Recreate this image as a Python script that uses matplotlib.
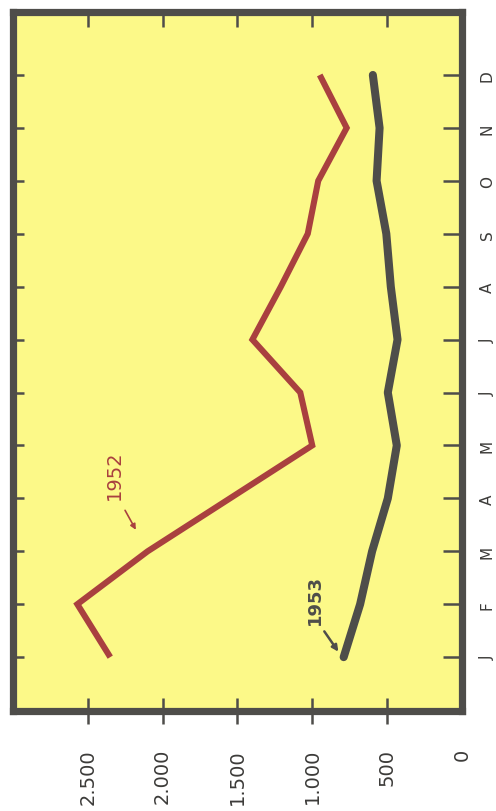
import matplotlib.pyplot as plt

# Données (lecture sur le graphique)
months = ['J', 'F', 'M', 'A', 'M', 'J', 'J', 'A', 'S', 'O', 'N', 'D']
v1952 = [2350, 2570, 2100, 1550, 1000, 1080, 1400, 1210, 1030, 960, 770, 950]
v1953 = [790, 680, 600, 495, 435, 495, 430, 475, 505, 570, 550, 595]
value_ticks = [0, 500, 1000, 1500, 2000, 2500]
value_labels = ['0', '500', '1.000', '1.500', '2.000', '2.500']

yellow = '#fcf988'
red = '#a9403f'
dark = '#4e4d4a'
txt = '#3c3b39'

fig = plt.figure(figsize=(4.96, 8.12), dpi=100)
ax = fig.add_axes([0.0262, 0.123, 0.905, 0.861])
ax.set_facecolor(yellow)

idx = list(range(len(months)))
# graphique tourné : mois en vertical, valeurs en horizontal (0 à droite)
ax.plot(v1952, idx, color=red, linewidth=4.4, solid_joinstyle='miter', solid_capstyle='butt')
ax.plot(v1953, idx, color=dark, linewidth=5.8, solid_joinstyle='round', solid_capstyle='round')

ax.set_xlim(3000, 0)
ax.set_ylim(-1.02, 12.19)

for s in ax.spines.values():
    s.set_linewidth(5.2)
    s.set_color(dark)

# axe des valeurs (en bas)
ax.set_xticks(value_ticks)
ax.set_xticklabels(value_labels, rotation=90, fontsize=14, color=txt)
ax.tick_params(axis='x', direction='inout', length=19, width=1.8, color=dark, pad=17)
ax.xaxis.get_major_ticks()[0].tick1line.set_visible(False)

# axe des mois (à droite)
ax.set_yticks(idx)
ax.set_yticklabels(months, rotation=90, fontsize=11, color=txt, va='center')
ax.yaxis.tick_right()
ax.tick_params(axis='y', direction='in', length=14, width=1.8, color=dark, pad=13)

# graduations intérieures en haut et à gauche
top = ax.secondary_xaxis('top')
top.set_xticks(value_ticks[1:])
top.set_xticklabels([])
top.tick_params(direction='in', length=11, width=1.8, color=dark)
top.spines['top'].set_visible(False)

left = ax.secondary_yaxis('left')
left.set_yticks(idx)
left.set_yticklabels([])
left.tick_params(direction='in', length=8, width=1.8, color=dark)
left.spines['left'].set_visible(False)

# étiquettes des courbes
ax.text(2320, 3.46, '1952', rotation=90, color=red, fontsize=14,
        ha='center', va='center')
ax.annotate('', xy=(2170, 2.36), xytext=(2260, 2.82),
            arrowprops=dict(arrowstyle='-|>', color=red, lw=1.2, mutation_scale=8))
ax.text(983, 1.10, '1953', rotation=90, color=dark, fontsize=13, fontweight='bold',
        ha='center', va='center')
ax.annotate('', xy=(815, 0.06), xytext=(930, 0.53),
            arrowprops=dict(arrowstyle='-|>', color=dark, lw=1.8, mutation_scale=9))

fig.savefig('out.png', dpi=100, facecolor='white')
